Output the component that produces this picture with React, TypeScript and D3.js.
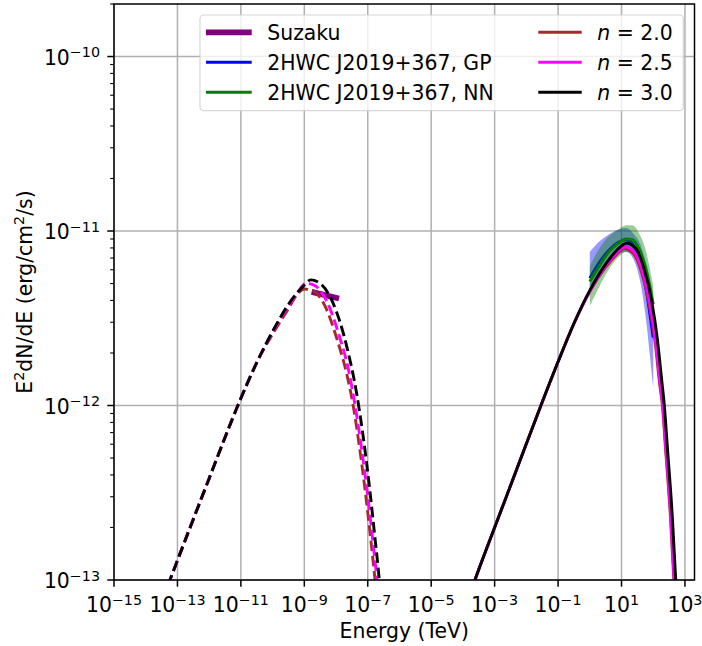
import React from "react";
import * as d3 from "d3";

// ---------- data ----------
// Synchrotron (dashed) curves, energy in TeV, E^2dN/dE in erg/cm^2/s
const syncE_n30 = [5.01e-14, 2.51e-13, 1.0e-12, 3.16e-12, 1.0e-11, 3.16e-11, 1.0e-10, 3.16e-10, 1.0e-9, 1.58e-9, 3.16e-9, 7.94e-9, 2.19e-8, 4.47e-8, 7.08e-8, 1.12e-7, 1.58e-7, 2.31e-7, 2.63e-7];
const syncF_n30 = [9.33e-14, 2.0e-13, 3.82e-13, 6.56e-13, 1.10e-12, 1.76e-12, 2.66e-12, 3.80e-12, 4.90e-12, 5.25e-12, 5.01e-12, 3.89e-12, 2.17e-12, 1.17e-12, 6.76e-13, 3.47e-13, 1.95e-13, 1.0e-13, 7.6e-14];
const syncE_n25 = [5.01e-14, 2.51e-13, 1.0e-12, 3.16e-12, 1.0e-11, 3.16e-11, 1.0e-10, 3.16e-10, 6.31e-10, 1.12e-9, 2.0e-9, 5.01e-9, 1.26e-8, 2.51e-8, 3.98e-8, 6.31e-8, 1.0e-7, 1.41e-7, 2.0e-7, 2.29e-7];
const syncF_n25 = [9.33e-14, 2.0e-13, 3.82e-13, 6.56e-13, 1.10e-12, 1.76e-12, 2.63e-12, 3.72e-12, 4.47e-12, 5.01e-12, 4.90e-12, 3.98e-12, 2.51e-12, 1.58e-12, 1.0e-12, 5.75e-13, 3.02e-13, 1.74e-13, 9.55e-14, 7.2e-14];
const syncE_n20 = [5.01e-14, 2.51e-13, 1.0e-12, 3.16e-12, 1.0e-11, 3.16e-11, 1.0e-10, 3.16e-10, 5.62e-10, 1.0e-9, 1.78e-9, 4.47e-9, 1.12e-8, 2.24e-8, 3.47e-8, 5.5e-8, 8.71e-8, 1.23e-7, 1.74e-7, 2.0e-7];
const syncF_n20 = [9.33e-14, 2.0e-13, 3.82e-13, 6.56e-13, 1.10e-12, 1.76e-12, 2.57e-12, 3.59e-12, 4.27e-12, 4.65e-12, 4.57e-12, 3.72e-12, 2.34e-12, 1.48e-12, 1.0e-12, 5.75e-13, 3.02e-13, 1.74e-13, 9.55e-14, 7.2e-14];

// Inverse Compton (solid) curves
const icE_n30 = [2.0e-4, 2.4e-4, 1.0e-3, 3.16e-3, 1.0e-2, 2.88e-2, 0.1, 0.316, 1, 3.16, 7.08, 14.5, 28.2, 49.0, 89.1, 135, 184, 224, 282, 398, 513, 562];
const icF_n30 = [9.1e-14, 1.0e-13, 2.0e-13, 3.47e-13, 6.03e-13, 1.0e-12, 1.78e-12, 2.95e-12, 4.57e-12, 6.46e-12, 7.76e-12, 8.51e-12, 7.94e-12, 6.24e-12, 3.98e-12, 2.40e-12, 1.41e-12, 1.0e-12, 5.62e-13, 2.34e-13, 1.0e-13, 7.1e-14];
const icE_n25 = [2.0e-4, 2.4e-4, 1.0e-3, 3.16e-3, 1.0e-2, 2.88e-2, 0.1, 0.316, 1, 3.16, 7.08, 12.6, 25.1, 44.7, 79.4, 120, 164, 200, 251, 355, 457, 501];
const icF_n25 = [9.1e-14, 1.0e-13, 2.0e-13, 3.47e-13, 6.03e-13, 1.0e-12, 1.78e-12, 2.95e-12, 4.52e-12, 6.31e-12, 7.50e-12, 8.13e-12, 7.59e-12, 5.96e-12, 3.80e-12, 2.29e-12, 1.35e-12, 1.0e-12, 5.62e-13, 2.34e-13, 1.0e-13, 7.1e-14];
const icE_n20 = [2.0e-4, 2.4e-4, 1.0e-3, 3.16e-3, 1.0e-2, 2.88e-2, 0.1, 0.316, 1, 3.16, 7.08, 12.0, 24.0, 42.7, 75.9, 117, 160, 195, 245, 347, 447, 490];
const icF_n20 = [9.1e-14, 1.0e-13, 2.0e-13, 3.47e-13, 6.03e-13, 1.0e-12, 1.78e-12, 2.95e-12, 4.50e-12, 6.20e-12, 7.35e-12, 7.94e-12, 7.41e-12, 5.82e-12, 3.72e-12, 2.24e-12, 1.32e-12, 1.0e-12, 5.62e-13, 2.34e-13, 1.0e-13, 7.1e-14];

// Suzaku
const suzakuE = [1.7e-9, 1.24e-8];
const suzakuF = [4.48e-12, 4.11e-12];

// 2HWC J2019+367, GP
const gpE = [1, 2, 4, 8, 14, 25, 40, 63, 79, 100];
const gpF = [5.37e-12, 6.61e-12, 7.76e-12, 8.61e-12, 8.91e-12, 8.13e-12, 6.61e-12, 4.37e-12, 3.31e-12, 2.45e-12];
const gpHi = [7.59e-12, 8.71e-12, 9.55e-12, 1.02e-11, 1.04e-11, 9.55e-12, 8.32e-12, 6.03e-12, 4.68e-12, 3.55e-12];
const gpLo = [4.68e-12, 5.62e-12, 6.61e-12, 7.41e-12, 7.59e-12, 6.76e-12, 5.01e-12, 2.82e-12, 1.91e-12, 1.26e-12];

// 2HWC J2019+367, NN
const nnE = [1, 2, 4, 8, 14, 22, 35, 56, 79, 100];
const nnF = [5.13e-12, 6.31e-12, 7.59e-12, 8.51e-12, 9.02e-12, 8.91e-12, 7.94e-12, 6.31e-12, 4.79e-12, 3.80e-12];
const nnHi = [6.31e-12, 7.94e-12, 9.33e-12, 1.02e-11, 1.08e-11, 1.08e-11, 9.77e-12, 7.94e-12, 6.03e-12, 4.79e-12];
const nnLo = [3.72e-12, 4.79e-12, 6.03e-12, 7.08e-12, 7.59e-12, 7.41e-12, 6.46e-12, 5.01e-12, 3.72e-12, 2.95e-12];

// ticks
const xTickExps = [-15, -13, -11, -9, -7, -5, -3, -1, 1, 3];
const yTickExps = [-13, -12, -11, -10];

const legendLeft = [
  { label: "Suzaku", color: "#800080", width: 5.7 },
  { label: "2HWC J2019+367, GP", color: "#0000ff", width: 2.9 },
  { label: "2HWC J2019+367, NN", color: "#008000", width: 2.9 },
];
const legendRight = [
  { n: "2.0", color: "#a52a2a" },
  { n: "2.5", color: "#ff00ff" },
  { n: "3.0", color: "#000000" },
];

// ---------- layout ----------
const W = 702, H = 646;
const L = 114, R = 694.5, T = 4, B = 580;
const FONT = "DejaVu Sans, sans-serif";
const FS = 20.4;
const SFS = 14.3;

export default function App() {
  const x = d3.scaleLog().domain([1e-15, 2e3]).range([L, R]);
  const y = d3.scaleLog().domain([1e-13, 2e-10]).range([B, T]);

  const mkLine = (E: number[], F: number[]) =>
    d3.line<number>().x((_, i) => x(E[i])).y((_, i) => y(F[i])).curve(d3.curveMonotoneX)(E) || "";
  const mkArea = (E: number[], lo: number[], hi: number[]) =>
    d3.area<number>().x((_, i) => x(E[i])).y0((_, i) => y(lo[i])).y1((_, i) => y(hi[i])).curve(d3.curveMonotoneX)(E) || "";

  const yMinor: number[] = [];
  for (let e = -13; e <= -10; e++) {
    for (let k = 2; k <= 9; k++) {
      const v = k * Math.pow(10, e);
      if (v <= 2e-10) yMinor.push(v);
    }
  }

  const dash = "10.7,4.6";
  const lw = 2.9;
  const models = [
    { sE: syncE_n20, sF: syncF_n20, iE: icE_n20, iF: icF_n20, color: "#a52a2a" },
    { sE: syncE_n25, sF: syncF_n25, iE: icE_n25, iF: icF_n25, color: "#ff00ff" },
    { sE: syncE_n30, sF: syncF_n30, iE: icE_n30, iF: icF_n30, color: "#000000" },
  ];

  return (
    <svg width={W} height={H} style={{ position: "absolute", left: 0, top: 0, background: "#fff" }} fontFamily={FONT}>
      <defs>
        <clipPath id="plotclip">
          <rect x={L} y={T} width={R - L} height={B - T} />
        </clipPath>
      </defs>
      <rect x={0} y={0} width={W} height={H} fill="#fff" />
      {/* grid */}
      {xTickExps.map((e) => (
        <line key={"gx" + e} x1={x(Math.pow(10, e))} x2={x(Math.pow(10, e))} y1={T} y2={B} stroke="#b0b0b0" strokeWidth={1.5} />
      ))}
      {yTickExps.map((e) => (
        <line key={"gy" + e} x1={L} x2={R} y1={y(Math.pow(10, e))} y2={y(Math.pow(10, e))} stroke="#b0b0b0" strokeWidth={1.5} />
      ))}

      <g clipPath="url(#plotclip)" fill="none">
        <path d={mkLine(suzakuE, suzakuF)} stroke="#800080" strokeWidth={5.7} />
        <path d={mkArea(gpE, gpLo, gpHi)} fill="#0000ff" fillOpacity={0.4} stroke="none" />
        <path d={mkLine(gpE, gpF)} stroke="#0000ff" strokeWidth={lw} />
        <path d={mkArea(nnE, nnLo, nnHi)} fill="#008000" fillOpacity={0.4} stroke="none" />
        <path d={mkLine(nnE, nnF)} stroke="#008000" strokeWidth={lw} />
        {models.map((m, i) => (
          <g key={"m" + i}>
            <path d={mkLine(m.sE, m.sF)} stroke={m.color} strokeWidth={lw} strokeDasharray={dash} />
            <path d={mkLine(m.iE, m.iF)} stroke={m.color} strokeWidth={lw} />
          </g>
        ))}
      </g>

      {/* spines */}
      <rect x={L} y={T} width={R - L} height={B - T} fill="none" stroke="#000" strokeWidth={1.5} />

      {/* x ticks */}
      {xTickExps.map((e) => {
        const px = x(Math.pow(10, e));
        return (
          <g key={"xt" + e}>
            <line x1={px} x2={px} y1={B} y2={B + 6.7} stroke="#000" strokeWidth={1.5} />
            <text x={px} y={612} textAnchor="middle" fontSize={FS} fill="#000">
              10<tspan fontSize={SFS} dy={-7.5}>{(e < 0 ? "\u2212" : "") + Math.abs(e)}</tspan>
            </text>
          </g>
        );
      })}
      {/* y ticks */}
      {yTickExps.map((e) => {
        const py = y(Math.pow(10, e));
        return (
          <g key={"yt" + e}>
            <line x1={L - 6.7} x2={L} y1={py} y2={py} stroke="#000" strokeWidth={1.5} />
            <text x={100} y={py + 8.3} textAnchor="end" fontSize={FS} fill="#000">
              10<tspan fontSize={SFS} dy={-7.7}>{"\u2212" + Math.abs(e)}</tspan>
            </text>
          </g>
        );
      })}
      {yMinor.map((v, i) => (
        <line key={"ym" + i} x1={L - 3.8} x2={L} y1={y(v)} y2={y(v)} stroke="#000" strokeWidth={1.1} />
      ))}

      {/* axis labels */}
      <text x={(L + R) / 2} y={638} textAnchor="middle" fontSize={FS} fill="#000">Energy (TeV)</text>
      <text transform={`translate(32, ${(T + B) / 2}) rotate(-90)`} textAnchor="middle" fontSize={FS} fill="#000">
        E<tspan fontSize={SFS} dy={-7.7}>2</tspan><tspan dy={7.7}>dN/dE (erg/cm</tspan><tspan fontSize={SFS} dy={-7.7}>2</tspan><tspan dy={7.7}>/s)</tspan>
      </text>

      {/* legend */}
      <rect x={200} y={15} width={483.3} height={95.7} rx={4} ry={4} fill="#fff" fillOpacity={0.8} stroke="#cccccc" strokeOpacity={0.8} strokeWidth={1.2} />
      {legendLeft.map((d, i) => {
        const cy = 32.3 + i * 30;
        return (
          <g key={"ll" + i}>
            <line x1={206} x2={251.7} y1={cy} y2={cy} stroke={d.color} strokeWidth={d.width} />
            <text x={267.3} y={cy + 7.3} fontSize={FS} fill="#000">{d.label}</text>
          </g>
        );
      })}
      {legendRight.map((d, i) => {
        const cy = 32.3 + i * 30;
        return (
          <g key={"lr" + i}>
            <line x1={538.3} x2={581.7} y1={cy} y2={cy} stroke={d.color} strokeWidth={2.9} />
            <text x={597.3} y={cy + 7.3} fontSize={FS} fill="#000">
              <tspan fontStyle="italic">n</tspan>{" = " + d.n}
            </text>
          </g>
        );
      })}
    </svg>
  );
}
